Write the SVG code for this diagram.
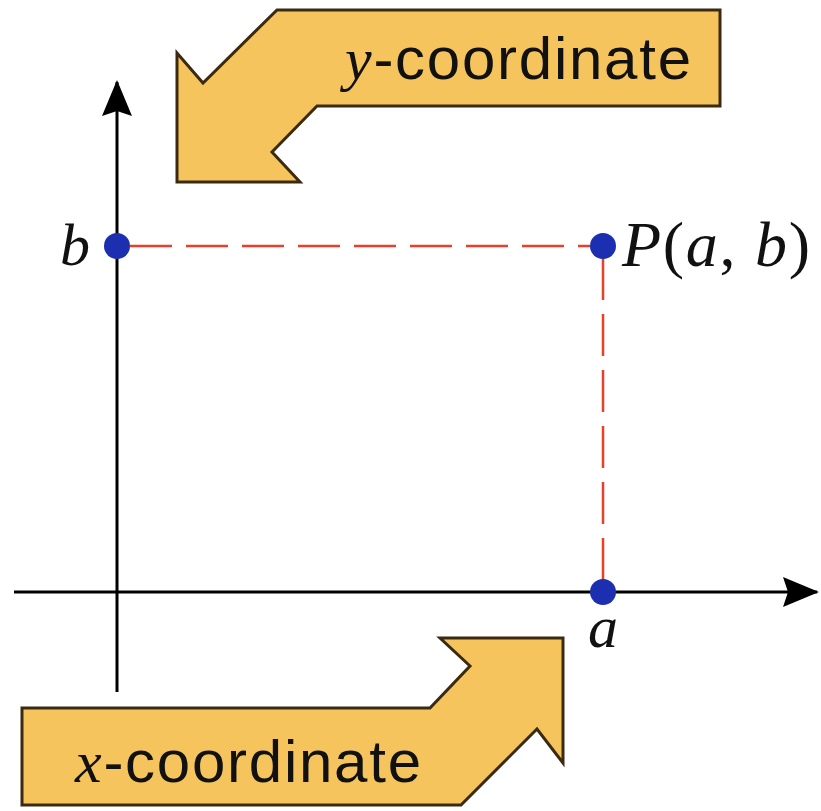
<svg xmlns="http://www.w3.org/2000/svg" width="821" height="811" viewBox="0 0 821 811">
<style>
.banner{fill:#f6c45c;stroke:#3a2a12;stroke-width:3;stroke-linejoin:miter}
.axis{stroke:#000;stroke-width:3;fill:none}
.dash{stroke:#e8402a;stroke-width:2.5;fill:none;stroke-dasharray:42 14}
.dot{fill:#1c2fb0}
.math{font-family:"Liberation Serif","Times New Roman",serif;font-style:italic;font-size:60px;fill:#111}
.mathup{font-style:normal}
.lbl{font-family:"Liberation Sans",Arial,sans-serif;font-size:60px;fill:#111}
</style>
<defs>
<marker id="ah" viewBox="0 0 36 30" refX="34" refY="15" markerWidth="36" markerHeight="30" markerUnits="userSpaceOnUse" orient="auto">
<path d="M0,0 L36,15 L0,30 L5,15 Z" fill="#000"/>
</marker>
</defs>
<g id="y-banner">
<path class="banner" d="M277,10 L720,10 L720,106 L317,106 L272,152 L300,182 L177,182 L177,53 L203,83 Z"/>
<text class="lbl" x="345" y="79" textLength="346" lengthAdjust="spacing"><tspan class="math">y</tspan>-coordinate</text>
</g>
<g id="x-banner">
<path class="banner" d="M22,708 L430,708 L470,666 L440,638 L563,638 L563,763 L537,729 L461,805 L22,805 Z"/>
<text class="lbl" x="75" y="782" textLength="346" lengthAdjust="spacing"><tspan class="math">x</tspan>-coordinate</text>
</g>
<g id="connectors">
<line class="axis" x1="117" y1="692" x2="117" y2="82" marker-end="url(#ah)"/>
<line class="axis" x1="14" y1="592" x2="817" y2="592" marker-end="url(#ah)"/>
<line class="dash" x1="130" y1="246" x2="590" y2="246"/>
<line class="dash" x1="603" y1="258" x2="603" y2="580"/>
</g>
<g id="point-b">
<circle class="dot" cx="117" cy="246" r="13"/>
<text class="math" x="60" y="265">b</text>
</g>
<g id="point-P">
<circle class="dot" cx="603" cy="246" r="13"/>
<text class="math" x="622" y="266" style="font-size:64px" textLength="188" lengthAdjust="spacing">P<tspan class="mathup">(</tspan>a<tspan class="mathup">, </tspan>b<tspan class="mathup">)</tspan></text>
</g>
<g id="point-a">
<circle class="dot" cx="603" cy="592" r="13"/>
<text class="math" x="603" y="647" text-anchor="middle">a</text>
</g>
</svg>
